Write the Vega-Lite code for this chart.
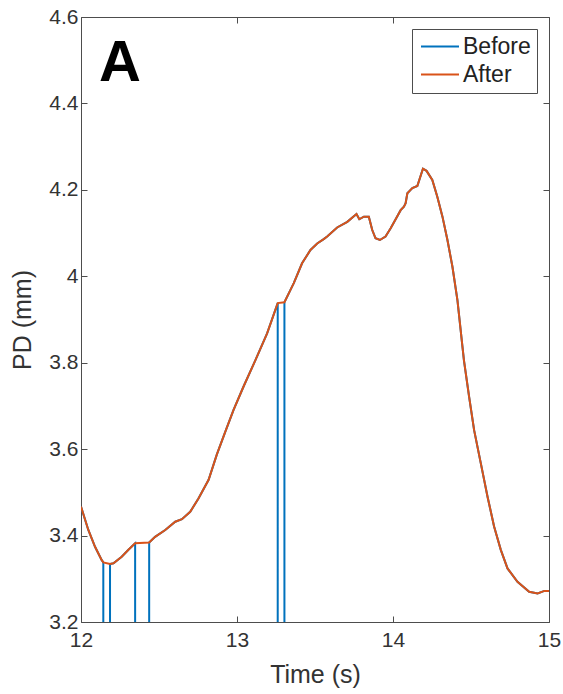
{
  "$schema": "https://vega.github.io/schema/vega-lite/v6.json",
  "width": 468,
  "height": 605,
  "autosize": {"type": "none"},
  "padding": {"left": 81, "top": 17, "right": 14, "bottom": 72},
  "background": "white",
  "config": {
    "view": {"stroke": "#4d4d4d", "strokeWidth": 1},
    "font": "Liberation Sans",
    "axis": {
      "domain": false,
      "grid": false,
      "labelFlush": false,
      "labelFont": "Liberation Sans",
      "labelFontSize": 21,
      "labelColor": "#333333",
      "titleFont": "Liberation Sans",
      "titleFontSize": 25,
      "titleFontWeight": "normal",
      "titleColor": "#333333",
      "tickColor": "#4d4d4d",
      "tickSize": -6
    }
  },
  "datasets": {
    "pd": [
      {"series": "Before", "t": 12.000, "pd": 3.467},
      {"series": "Before", "t": 12.047, "pd": 3.413},
      {"series": "Before", "t": 12.090, "pd": 3.374},
      {"series": "Before", "t": 12.133, "pd": 3.343},
      {"series": "Before", "t": 12.143, "pd": 3.338},
      {"series": "Before", "t": 12.143, "pd": 0},
      {"series": "Before", "t": 12.186, "pd": 0},
      {"series": "Before", "t": 12.186, "pd": 3.334},
      {"series": "Before", "t": 12.208, "pd": 3.336},
      {"series": "Before", "t": 12.261, "pd": 3.351},
      {"series": "Before", "t": 12.304, "pd": 3.367},
      {"series": "Before", "t": 12.347, "pd": 3.382},
      {"series": "Before", "t": 12.347, "pd": 0},
      {"series": "Before", "t": 12.437, "pd": 0},
      {"series": "Before", "t": 12.437, "pd": 3.384},
      {"series": "Before", "t": 12.475, "pd": 3.397},
      {"series": "Before", "t": 12.540, "pd": 3.413},
      {"series": "Before", "t": 12.604, "pd": 3.432},
      {"series": "Before", "t": 12.647, "pd": 3.438},
      {"series": "Before", "t": 12.700, "pd": 3.455},
      {"series": "Before", "t": 12.753, "pd": 3.486},
      {"series": "Before", "t": 12.818, "pd": 3.529},
      {"series": "Before", "t": 12.871, "pd": 3.588},
      {"series": "Before", "t": 12.930, "pd": 3.645},
      {"series": "Before", "t": 12.978, "pd": 3.691},
      {"series": "Before", "t": 13.042, "pd": 3.745},
      {"series": "Before", "t": 13.128, "pd": 3.814},
      {"series": "Before", "t": 13.193, "pd": 3.868},
      {"series": "Before", "t": 13.261, "pd": 3.938},
      {"series": "Before", "t": 13.261, "pd": 0},
      {"series": "Before", "t": 13.304, "pd": 0},
      {"series": "Before", "t": 13.304, "pd": 3.940},
      {"series": "Before", "t": 13.342, "pd": 3.968},
      {"series": "Before", "t": 13.364, "pd": 3.984},
      {"series": "Before", "t": 13.417, "pd": 4.030},
      {"series": "Before", "t": 13.471, "pd": 4.061},
      {"series": "Before", "t": 13.514, "pd": 4.076},
      {"series": "Before", "t": 13.556, "pd": 4.086},
      {"series": "Before", "t": 13.578, "pd": 4.092},
      {"series": "Before", "t": 13.642, "pd": 4.113},
      {"series": "Before", "t": 13.707, "pd": 4.126},
      {"series": "Before", "t": 13.766, "pd": 4.144},
      {"series": "Before", "t": 13.784, "pd": 4.132},
      {"series": "Before", "t": 13.813, "pd": 4.138},
      {"series": "Before", "t": 13.845, "pd": 4.138},
      {"series": "Before", "t": 13.867, "pd": 4.107},
      {"series": "Before", "t": 13.888, "pd": 4.088},
      {"series": "Before", "t": 13.916, "pd": 4.084},
      {"series": "Before", "t": 13.952, "pd": 4.092},
      {"series": "Before", "t": 13.985, "pd": 4.111},
      {"series": "Before", "t": 14.017, "pd": 4.132},
      {"series": "Before", "t": 14.049, "pd": 4.153},
      {"series": "Before", "t": 14.070, "pd": 4.161},
      {"series": "Before", "t": 14.081, "pd": 4.169},
      {"series": "Before", "t": 14.092, "pd": 4.192},
      {"series": "Before", "t": 14.124, "pd": 4.204},
      {"series": "Before", "t": 14.156, "pd": 4.209},
      {"series": "Before", "t": 14.192, "pd": 4.249},
      {"series": "Before", "t": 14.215, "pd": 4.244},
      {"series": "Before", "t": 14.252, "pd": 4.223},
      {"series": "Before", "t": 14.284, "pd": 4.184},
      {"series": "Before", "t": 14.317, "pd": 4.138},
      {"series": "Before", "t": 14.349, "pd": 4.084},
      {"series": "Before", "t": 14.381, "pd": 4.022},
      {"series": "Before", "t": 14.413, "pd": 3.945},
      {"series": "Before", "t": 14.445, "pd": 3.838},
      {"series": "Before", "t": 14.455, "pd": 3.805},
      {"series": "Before", "t": 14.488, "pd": 3.721},
      {"series": "Before", "t": 14.520, "pd": 3.644},
      {"series": "Before", "t": 14.563, "pd": 3.567},
      {"series": "Before", "t": 14.606, "pd": 3.490},
      {"series": "Before", "t": 14.648, "pd": 3.421},
      {"series": "Before", "t": 14.691, "pd": 3.367},
      {"series": "Before", "t": 14.734, "pd": 3.324},
      {"series": "Before", "t": 14.798, "pd": 3.293},
      {"series": "Before", "t": 14.873, "pd": 3.270},
      {"series": "Before", "t": 14.927, "pd": 3.266},
      {"series": "Before", "t": 14.970, "pd": 3.272},
      {"series": "Before", "t": 15.000, "pd": 3.272},
      {"series": "After", "t": 12.000, "pd": 3.467},
      {"series": "After", "t": 12.047, "pd": 3.413},
      {"series": "After", "t": 12.090, "pd": 3.374},
      {"series": "After", "t": 12.133, "pd": 3.343},
      {"series": "After", "t": 12.143, "pd": 3.338},
      {"series": "After", "t": 12.186, "pd": 3.334},
      {"series": "After", "t": 12.208, "pd": 3.336},
      {"series": "After", "t": 12.261, "pd": 3.351},
      {"series": "After", "t": 12.304, "pd": 3.367},
      {"series": "After", "t": 12.347, "pd": 3.382},
      {"series": "After", "t": 12.437, "pd": 3.384},
      {"series": "After", "t": 12.475, "pd": 3.397},
      {"series": "After", "t": 12.540, "pd": 3.413},
      {"series": "After", "t": 12.604, "pd": 3.432},
      {"series": "After", "t": 12.647, "pd": 3.438},
      {"series": "After", "t": 12.700, "pd": 3.455},
      {"series": "After", "t": 12.753, "pd": 3.486},
      {"series": "After", "t": 12.818, "pd": 3.529},
      {"series": "After", "t": 12.871, "pd": 3.588},
      {"series": "After", "t": 12.930, "pd": 3.645},
      {"series": "After", "t": 12.978, "pd": 3.691},
      {"series": "After", "t": 13.042, "pd": 3.745},
      {"series": "After", "t": 13.128, "pd": 3.814},
      {"series": "After", "t": 13.193, "pd": 3.868},
      {"series": "After", "t": 13.261, "pd": 3.938},
      {"series": "After", "t": 13.304, "pd": 3.940},
      {"series": "After", "t": 13.342, "pd": 3.968},
      {"series": "After", "t": 13.364, "pd": 3.984},
      {"series": "After", "t": 13.417, "pd": 4.030},
      {"series": "After", "t": 13.471, "pd": 4.061},
      {"series": "After", "t": 13.514, "pd": 4.076},
      {"series": "After", "t": 13.556, "pd": 4.086},
      {"series": "After", "t": 13.578, "pd": 4.092},
      {"series": "After", "t": 13.642, "pd": 4.113},
      {"series": "After", "t": 13.707, "pd": 4.126},
      {"series": "After", "t": 13.766, "pd": 4.144},
      {"series": "After", "t": 13.784, "pd": 4.132},
      {"series": "After", "t": 13.813, "pd": 4.138},
      {"series": "After", "t": 13.845, "pd": 4.138},
      {"series": "After", "t": 13.867, "pd": 4.107},
      {"series": "After", "t": 13.888, "pd": 4.088},
      {"series": "After", "t": 13.916, "pd": 4.084},
      {"series": "After", "t": 13.952, "pd": 4.092},
      {"series": "After", "t": 13.985, "pd": 4.111},
      {"series": "After", "t": 14.017, "pd": 4.132},
      {"series": "After", "t": 14.049, "pd": 4.153},
      {"series": "After", "t": 14.070, "pd": 4.161},
      {"series": "After", "t": 14.081, "pd": 4.169},
      {"series": "After", "t": 14.092, "pd": 4.192},
      {"series": "After", "t": 14.124, "pd": 4.204},
      {"series": "After", "t": 14.156, "pd": 4.209},
      {"series": "After", "t": 14.192, "pd": 4.249},
      {"series": "After", "t": 14.215, "pd": 4.244},
      {"series": "After", "t": 14.252, "pd": 4.223},
      {"series": "After", "t": 14.284, "pd": 4.184},
      {"series": "After", "t": 14.317, "pd": 4.138},
      {"series": "After", "t": 14.349, "pd": 4.084},
      {"series": "After", "t": 14.381, "pd": 4.022},
      {"series": "After", "t": 14.413, "pd": 3.945},
      {"series": "After", "t": 14.445, "pd": 3.838},
      {"series": "After", "t": 14.455, "pd": 3.805},
      {"series": "After", "t": 14.488, "pd": 3.721},
      {"series": "After", "t": 14.520, "pd": 3.644},
      {"series": "After", "t": 14.563, "pd": 3.567},
      {"series": "After", "t": 14.606, "pd": 3.490},
      {"series": "After", "t": 14.648, "pd": 3.421},
      {"series": "After", "t": 14.691, "pd": 3.367},
      {"series": "After", "t": 14.734, "pd": 3.324},
      {"series": "After", "t": 14.798, "pd": 3.293},
      {"series": "After", "t": 14.873, "pd": 3.270},
      {"series": "After", "t": 14.927, "pd": 3.266},
      {"series": "After", "t": 14.970, "pd": 3.272},
      {"series": "After", "t": 15.000, "pd": 3.272}
    ]
  },
  "layer": [
    {
      "data": {"name": "pd"},
      "transform": [{"filter": "datum.series === 'Before'"}],
      "mark": {"type": "line", "clip": true, "strokeWidth": 2},
      "encoding": {
        "x": {
          "field": "t", "type": "quantitative",
          "scale": {"domain": [12, 15], "nice": false, "zero": false},
          "axis": {"orient": "bottom", "values": [12, 13, 14, 15], "format": "~g", "title": "Time (s)", "labelPadding": 13, "titlePadding": 12}
        },
        "y": {
          "field": "pd", "type": "quantitative",
          "scale": {"domain": [3.2, 4.6], "nice": false, "zero": false},
          "axis": {"orient": "left", "values": [3.2, 3.4, 3.6, 3.8, 4, 4.2, 4.4, 4.6], "format": "~g", "title": "PD (mm)", "labelPadding": 9, "titlePadding": 13}
        },
        "color": {
          "field": "series", "type": "nominal",
          "scale": {"domain": ["Before", "After"], "range": ["#0072BD", "#D95319"]},
          "legend": {
            "title": null,
            "orient": "top-right",
            "offset": 12,
            "symbolType": "M-2,0H2",
            "symbolSize": 361,
            "symbolStrokeWidth": 2,
            "symbolOffset": 10.5,
            "labelFont": "Liberation Sans",
            "labelFontSize": 23,
            "labelColor": "#222222",
            "labelOffset": 11.5,
            "strokeColor": "#4d4d4d",
            "fillColor": "white",
            "padding": 6,
            "rowPadding": 4,
            "cornerRadius": 0
          }
        },
        "order": {"value": null}
      }
    },
    {
      "data": {"name": "pd"},
      "transform": [{"filter": "datum.series === 'After'"}],
      "mark": {"type": "line", "clip": true, "strokeWidth": 2},
      "encoding": {
        "x": {
          "field": "t", "type": "quantitative",
          "axis": {"orient": "top", "values": [12, 13, 14, 15], "labels": false, "title": null}
        },
        "y": {
          "field": "pd", "type": "quantitative",
          "axis": {"orient": "right", "values": [3.2, 3.4, 3.6, 3.8, 4, 4.2, 4.4, 4.6], "labels": false, "title": null}
        },
        "color": {"field": "series", "type": "nominal"},
        "order": {"value": null}
      }
    },
    {
      "data": {"values": [{"label": "A", "t": 12.25, "pd": 4.452}]},
      "mark": {"type": "text", "fontSize": 58, "fontWeight": "bold", "font": "Liberation Sans", "align": "center", "baseline": "alphabetic", "color": "black"},
      "encoding": {
        "x": {"field": "t", "type": "quantitative", "axis": null},
        "y": {"field": "pd", "type": "quantitative", "axis": null},
        "text": {"field": "label"}
      }
    }
  ],
  "resolve": {"axis": {"x": "independent", "y": "independent"}}
}
